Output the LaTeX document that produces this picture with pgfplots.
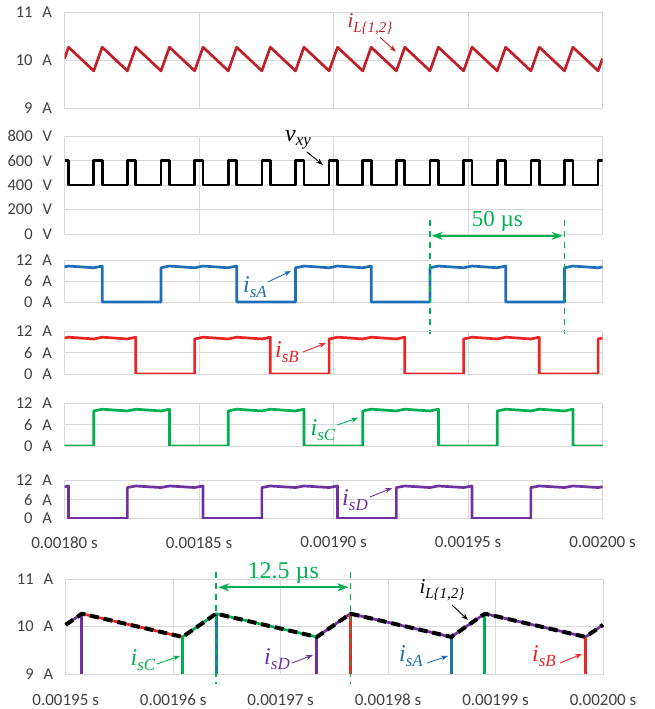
\documentclass[border=0pt]{standalone}
\usepackage{pgfplots}
\pgfplotsset{compat=1.18}
\usepackage{fontspec}
\setmainfont{Liberation Serif}
\newfontfamily\calfont{Carlito}
\usetikzlibrary{arrows.meta}
\definecolor{gridc}{HTML}{D9D9D9}
\definecolor{tickc}{HTML}{404040}
\definecolor{ilred}{HTML}{C0202A}
\definecolor{cA}{HTML}{1F6EB8}
\definecolor{cB}{HTML}{EE2424}
\definecolor{cC}{HTML}{00B050}
\definecolor{cD}{HTML}{7030A0}
\newcommand\yf{\calfont\fontsize{16.5}{16.5}\selectfont}
\newcommand\xf{\calfont\fontsize{17}{17}\selectfont}
\newcommand\sig[2]{{\fontsize{24}{24}\selectfont\textit{#1}}\raisebox{-0.45em}{\fontsize{17}{17}\selectfont\textit{#2}}}
\newcommand\sigs[2]{{\fontsize{21}{21}\selectfont\textit{#1}}\raisebox{-0.45em}{\fontsize{15}{15}\selectfont\textit{#2}}}
\newcommand\gapA{\hspace{.6em}}
\pgfplotsset{
  panel/.style={
    scale only axis, anchor=south west,
    xmin=1800, xmax=2000, xtick={1800,1850,1900,1950,2000}, xticklabels={},
    grid=major, major grid style={draw=gridc, line width=0.9pt},
    axis line style={draw=gridc, line width=0.9pt},
    tick style={draw=none},
    yticklabel style={font=\yf, text=tickc, xshift=-9pt},
    xticklabel style={font=\xf, text=tickc, yshift=-14.5pt},
    every axis plot/.append style={line width=2.7pt, line join=round, no markers},
  },
  cur/.style={ymin=0, ymax=12, ytick={0,6,12}, yticklabels={0\gapA A,6\gapA A,12\gapA A}},
}
\tikzset{ann/.style={-{Stealth[length=7pt,width=5pt]}, line width=0.9pt}}
\begin{document}
\begin{tikzpicture}[x=1pt,y=1pt]
\useasboundingbox (0,0) rectangle (655,709);
% ---- panel 1: iL
\begin{axis}[panel, at={(64.5pt,600.5pt)}, width=538pt, height=96.5pt,
  ymin=9, ymax=11, ytick={9,10,11}, yticklabels={9\gapA A,10\gapA A,11\gapA A}]
\addplot[ilred] coordinates {(1800,10.035)(1801.5,10.27)(1810.875,9.78)(1814,10.27)(1823.375,9.78)(1826.5,10.27)(1835.875,9.78)(1839,10.27)(1848.375,9.78)(1851.5,10.27)(1860.875,9.78)(1864,10.27)(1873.375,9.78)(1876.5,10.27)(1885.875,9.78)(1889,10.27)(1898.375,9.78)(1901.5,10.27)(1910.875,9.78)(1914,10.27)(1923.375,9.78)(1926.5,10.27)(1935.875,9.78)(1939,10.27)(1948.375,9.78)(1951.5,10.27)(1960.875,9.78)(1964,10.27)(1973.375,9.78)(1976.5,10.27)(1985.875,9.78)(1989,10.27)(1998.375,9.78)(2000,10.035)};
\end{axis}
% ---- panel 2: vxy
\begin{axis}[panel, at={(64.5pt,475pt)}, width=538pt, height=98pt,
  ymin=0, ymax=800, ytick={0,200,400,600,800}, yticklabels={0\gapA V,200\gapA V,400\gapA V,600\gapA V,800\gapA V}]
\addplot[black, const plot mark left] coordinates {(1800,600)(1801.5,400)(1810.875,600)(1814,400)(1823.375,600)(1826.5,400)(1835.875,600)(1839,400)(1848.375,600)(1851.5,400)(1860.875,600)(1864,400)(1873.375,600)(1876.5,400)(1885.875,600)(1889,400)(1898.375,600)(1901.5,400)(1910.875,600)(1914,400)(1923.375,600)(1926.5,400)(1935.875,600)(1939,400)(1948.375,600)(1951.5,400)(1960.875,600)(1964,400)(1973.375,600)(1976.5,400)(1985.875,600)(1989,400)(1998.375,600)(2000,600)};
\end{axis}
% ---- panel 3: isA
\begin{axis}[panel, cur, at={(64.5pt,407pt)}, width=538pt, height=42pt, clip=false]
\addplot[cA] coordinates {(1800,10.035)(1801.5,10.27)(1810.875,9.78)(1814,10.27)(1814,0)
(1835.875,0)(1835.875,9.78)(1839,10.27)(1848.375,9.78)(1851.5,10.27)(1860.875,9.78)(1864,10.27)(1864,0)
(1885.875,0)(1885.875,9.78)(1889,10.27)(1898.375,9.78)(1901.5,10.27)(1910.875,9.78)(1914,10.27)(1914,0)
(1935.875,0)(1935.875,9.78)(1939,10.27)(1948.375,9.78)(1951.5,10.27)(1960.875,9.78)(1964,10.27)(1964,0)
(1985.875,0)(1985.875,9.78)(1989,10.27)(1998.375,9.78)(2000,10.035)};
\draw[cC, line width=1.9pt, dash pattern=on 6pt off 5pt] (axis cs:1935.875,23.4) -- (axis cs:1935.875,-9.1);
\draw[cC, line width=1.9pt, dash pattern=on 6pt off 5pt] (axis cs:1985.875,23.4) -- (axis cs:1985.875,-9.1);
\draw[cC, line width=1.8pt, {Stealth[length=11pt,width=8pt]}-{Stealth[length=11pt,width=8pt]}] (axis cs:1936.5,18.9) -- (axis cs:1985.2,18.9);
\node[cC, font=\fontsize{23}{23}\selectfont] at (axis cs:1960.9,23.1) {50 µs};
\end{axis}
% ---- panel 4: isB
\begin{axis}[panel, cur, at={(64.5pt,335pt)}, width=538pt, height=43pt]
\addplot[cB] coordinates {(1800,10.035)(1801.5,10.27)(1810.875,9.78)(1814,10.27)(1823.375,9.78)(1826.5,10.27)(1826.5,0)
(1848.375,0)(1848.375,9.78)(1851.5,10.27)(1860.875,9.78)(1864,10.27)(1873.375,9.78)(1876.5,10.27)(1876.5,0)
(1898.375,0)(1898.375,9.78)(1901.5,10.27)(1910.875,9.78)(1914,10.27)(1923.375,9.78)(1926.5,10.27)(1926.5,0)
(1948.375,0)(1948.375,9.78)(1951.5,10.27)(1960.875,9.78)(1964,10.27)(1973.375,9.78)(1976.5,10.27)(1976.5,0)
(1998.375,0)(1998.375,9.78)(2000,10.035)};
\end{axis}
% ---- panel 5: isC
\begin{axis}[panel, cur, at={(64.5pt,263pt)}, width=538pt, height=43pt]
\addplot[cC] coordinates {(1800,0)(1810.875,0)(1810.875,9.78)(1814,10.27)(1823.375,9.78)(1826.5,10.27)(1835.875,9.78)(1839,10.27)(1839,0)
(1860.875,0)(1860.875,9.78)(1864,10.27)(1873.375,9.78)(1876.5,10.27)(1885.875,9.78)(1889,10.27)(1889,0)
(1910.875,0)(1910.875,9.78)(1914,10.27)(1923.375,9.78)(1926.5,10.27)(1935.875,9.78)(1939,10.27)(1939,0)
(1960.875,0)(1960.875,9.78)(1964,10.27)(1973.375,9.78)(1976.5,10.27)(1985.875,9.78)(1989,10.27)(1989,0)(2000,0)};
\end{axis}
% ---- panel 6: isD
\begin{axis}[panel, cur, at={(64.5pt,190.5pt)}, width=538pt, height=38pt,
  xticklabels={0.00180 s,0.00185 s,0.00190 s,0.00195 s,0.00200 s}]
\addplot[cD] coordinates {(1800,10.035)(1801.5,10.27)(1801.5,0)
(1823.375,0)(1823.375,9.78)(1826.5,10.27)(1835.875,9.78)(1839,10.27)(1848.375,9.78)(1851.5,10.27)(1851.5,0)
(1873.375,0)(1873.375,9.78)(1876.5,10.27)(1885.875,9.78)(1889,10.27)(1898.375,9.78)(1901.5,10.27)(1901.5,0)
(1923.375,0)(1923.375,9.78)(1926.5,10.27)(1935.875,9.78)(1939,10.27)(1948.375,9.78)(1951.5,10.27)(1951.5,0)
(1973.375,0)(1973.375,9.78)(1976.5,10.27)(1985.875,9.78)(1989,10.27)(1998.375,9.78)(2000,10.035)};
\end{axis}
% ---- panel 7: zoom
\begin{axis}[panel, at={(65.7pt,35pt)}, width=537.3pt, height=95pt, clip=false,
  xmin=1950, xmax=2000, xtick={1950,1960,1970,1980,1990,2000},
  xticklabels={0.00195 s,0.00196 s,0.00197 s,0.00198 s,0.00199 s,0.00200 s},
  xticklabel style={yshift=-2pt},
  ymin=9, ymax=11, ytick={9,10,11}, yticklabels={9\gapA A,10\gapA A,11\gapA A}]
\addplot[cD] coordinates {(1950,10.035)(1951.5,10.27)};
\addplot[cB] coordinates {(1951.5,10.27)(1960.875,9.78)};
\addplot[cC] coordinates {(1960.875,9.78)(1964,10.27)(1973.375,9.78)};
\addplot[cD] coordinates {(1973.375,9.78)(1976.5,10.27)(1985.875,9.78)(1989,10.27)(1998.375,9.78)(2000,10.035)};
\addplot[cD, line width=2.8pt] coordinates {(1951.5,10.27)(1951.5,9)};
\addplot[cC, line width=2.8pt] coordinates {(1960.875,9.78)(1960.875,9)};
\addplot[cA, line width=2.8pt] coordinates {(1964,10.27)(1964,9)};
\addplot[cD, line width=2.8pt] coordinates {(1973.375,9.78)(1973.375,9)};
\addplot[cB, line width=2.8pt] coordinates {(1976.5,10.27)(1976.5,9)};
\addplot[cA, line width=2.8pt] coordinates {(1985.875,9.78)(1985.875,9)};
\addplot[cC, line width=2.8pt] coordinates {(1989,10.27)(1989,9)};
\addplot[cB, line width=2.8pt] coordinates {(1998.375,9.78)(1998.375,9)};
\addplot[black, line width=4pt, dash pattern=on 9pt off 5pt] coordinates {(1950,10.035)(1951.5,10.27)(1960.875,9.78)(1964,10.27)(1973.375,9.78)(1976.5,10.27)(1985.875,9.78)(1989,10.27)(1998.375,9.78)(2000,10.035)};
\draw[cC, line width=1.9pt, dash pattern=on 6pt off 5pt] (axis cs:1964,11.154) -- (axis cs:1964,8.78);
\draw[cC, line width=1.9pt, dash pattern=on 6pt off 5pt] (axis cs:1976.5,11.154) -- (axis cs:1976.5,8.78);
\draw[cC, line width=1.8pt, {Stealth[length=11pt,width=8pt]}-{Stealth[length=11pt,width=8pt]}] (axis cs:1964.2,10.825) -- (axis cs:1976.3,10.825);
\node[cC, font=\fontsize{24}{24}\selectfont] at (axis cs:1970.25,11.13) {12.5 µs};
\end{axis}
% ---- annotations
\node[ilred, inner sep=0] at (370pt,685pt) {\sigs{i}{L\{1,2\}}};
\draw[ilred, ann] (380pt,671.7pt) -- (396pt,657.3pt);
\node[black, inner sep=0] at (298pt,569pt) {\sig{v}{xy}};
\draw[black, ann] (307pt,557pt) -- (323pt,544pt);
\node[cA, inner sep=0] at (255pt,422pt) {\sig{i}{sA}};
\draw[cA, ann] (268pt,427pt) -- (291pt,438pt);
\node[cB, inner sep=0] at (287pt,357pt) {\sig{i}{sB}};
\draw[cB, ann] (303pt,357pt) -- (326pt,366pt);
\node[cC, inner sep=0] at (323pt,279pt) {\sig{i}{sC}};
\draw[cC, ann] (337pt,284pt) -- (358pt,291pt);
\node[cD, inner sep=0] at (355pt,209pt) {\sig{i}{sD}};
\draw[cD, ann] (370pt,212pt) -- (392pt,221pt);
\node[cC, inner sep=0] at (143pt,49pt) {\sig{i}{sC}};
\draw[cC, ann] (157pt,45pt) -- (180pt,53pt);
\node[cD, inner sep=0] at (277pt,50pt) {\sig{i}{sD}};
\draw[cD, ann] (292pt,46pt) -- (313pt,54pt);
\node[black, inner sep=0] at (442pt,119pt) {\sigs{i}{L\{1,2\}}};
\draw[black, ann] (452pt,104pt) -- (468pt,89pt);
\node[cA, inner sep=0] at (411pt,53pt) {\sig{i}{sA}};
\draw[cA, ann] (427pt,46pt) -- (448pt,53pt);
\node[cB, inner sep=0] at (544pt,53pt) {\sig{i}{sB}};
\draw[cB, ann] (560pt,46pt) -- (582pt,55pt);
\end{tikzpicture}
\end{document}
